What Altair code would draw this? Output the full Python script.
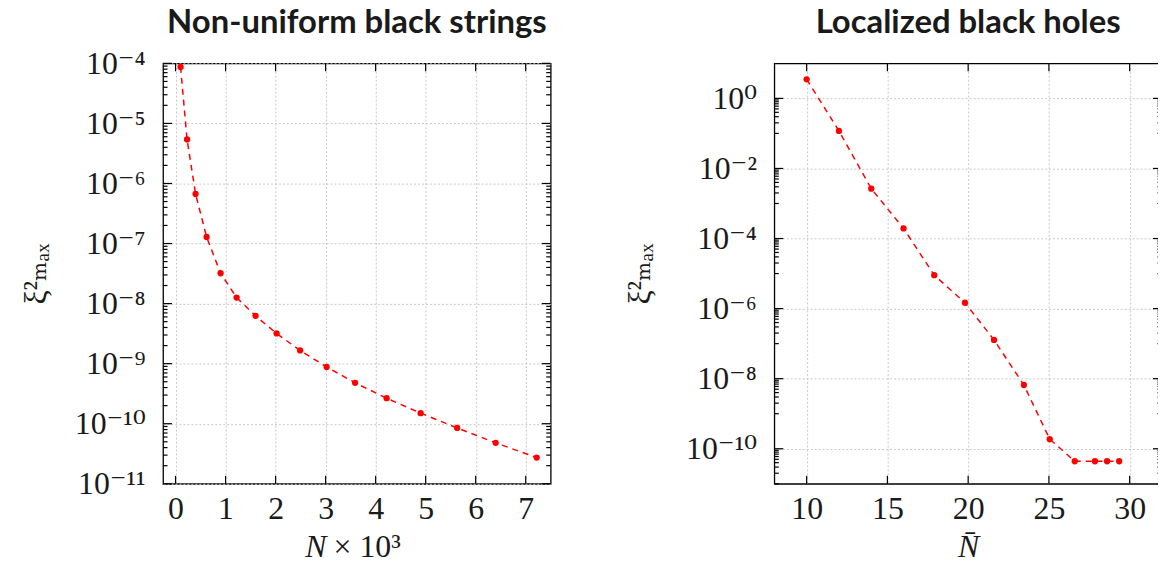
import altair as alt
import pandas as pd

# ---------------- data ----------------
# Left panel: non-uniform black strings
ns_N = [0.10, 0.23, 0.40, 0.62, 0.90, 1.22, 1.60, 2.02, 2.49, 3.02, 3.59, 4.22, 4.90, 5.63, 6.40, 7.22]
ns_xi2 = [8.7e-5, 5.4e-6, 6.7e-7, 1.29e-7, 3.2e-8, 1.26e-8, 6.25e-9, 3.18e-9, 1.66e-9,
          8.8e-10, 4.8e-10, 2.66e-10, 1.50e-10, 8.5e-11, 4.8e-11, 2.73e-11]

# Right panel: localized black holes
lb_N = [10.0, 12.0, 14.0, 16.0, 17.9, 19.8, 21.6, 23.45, 25.05, 26.6, 27.85, 28.6, 29.35]
lb_xi2 = [3.5, 0.118, 2.65e-3, 1.94e-4, 9.0e-6, 1.47e-6, 1.28e-7, 6.6e-9, 1.88e-10,
          4.4e-11, 4.4e-11, 4.4e-11, 4.4e-11]

ns_xticks = [0, 1, 2, 3, 4, 5, 6, 7]
lb_xticks = [10, 15, 20, 25, 30]
ns_yexps = [-11, -10, -9, -8, -7, -6, -5, -4]
lb_yexps = [-10, -8, -6, -4, -2, 0]

titles = ["Non-uniform black strings", "Localized black holes"]
ytitle = "ξ²ₘₐₓ"

# ---------------- style ----------------
W, H = 390, 423
RED = "#ff0000"
INK = "#000000"
TXT = "#1a1a1a"
SERIF = "Liberation Serif, DejaVu Serif, serif"
SUP = str.maketrans("-0123456789", "⁻⁰¹²³⁴⁵⁶⁷⁸⁹")
XTITLE_Y = 73.5


def pow_label_expr(exps):
    e = "round(log(datum.value)/LN10)"
    parts = [f"{e} == {k} ? '10{str(k).translate(SUP)}'" for k in exps]
    return " : ".join(parts) + " : ''"


def panel(x, y, xdom, xticks, yexp_range, yexps, ymajor, yminor, title, xtitle_parts,
          title_offset, ytitle_x):
    df = pd.DataFrame({"x": x, "y": y})
    xs = alt.Scale(domain=xdom, nice=False, zero=False)
    ys = alt.Scale(type="log", domain=[10.0 ** yexp_range[0], 10.0 ** yexp_range[1]], nice=False)
    base = alt.Chart(df)

    t1, t2 = xtitle_parts
    line = base.mark_line(color=RED, strokeDash=[6, 5], strokeWidth=1.5).encode(
        x=alt.X("x:Q", scale=xs, axis=alt.Axis(
            values=xticks, grid=True, ticks=False, tickSize=0, domain=False,
            labelPadding=10, title=t1[0], titleFontStyle=t1[1],
            titleAlign=t1[2], titleX=t1[3], titleY=XTITLE_Y, titleBaseline="alphabetic")),
        y=alt.Y("y:Q", scale=ys, axis=alt.Axis(
            values=[10.0 ** k for k in yexps], labelExpr=pow_label_expr(yexps),
            grid=True, ticks=False, tickSize=0, domain=False, labelPadding=18,
            title=ytitle, titleAngle=-90, titleX=ytitle_x, titleY=H / 2,
            titleAlign="center", titleBaseline="alphabetic")),
    )
    pts = base.mark_circle(size=40, color=RED, opacity=1).encode(
        x=alt.X("x:Q", scale=xs, axis=None),
        y=alt.Y("y:Q", scale=ys, axis=None),
    )

    # inward tick marks on all four sides of the frame, placed through the scales
    def yticks(values, side, length):
        x0 = 0 if side == "left" else W
        x1 = length if side == "left" else W - length
        return alt.Chart(pd.DataFrame({"v": values})).mark_rule(
            color=INK, strokeWidth=1.2, opacity=1).encode(
            y=alt.Y("v:Q", scale=ys, axis=None), x=alt.value(x0), x2=alt.value(x1))

    def xticks_marks(values, side, length):
        y0 = H if side == "bottom" else 0
        y1 = H - length if side == "bottom" else length
        return alt.Chart(pd.DataFrame({"v": values})).mark_rule(
            color=INK, strokeWidth=1.2, opacity=1).encode(
            x=alt.X("v:Q", scale=xs, axis=None), y=alt.value(y0), y2=alt.value(y1))

    layers = [line, pts,
              yticks(ymajor, "left", 9), yticks(ymajor, "right", 9),
              yticks(yminor, "left", 4.5), yticks(yminor, "right", 4.5),
              xticks_marks(xticks, "bottom", 8), xticks_marks(xticks, "top", 8)]
    if t2 is not None:
        layers.append(base.mark_point(opacity=0).encode(
            x=alt.X("x:Q", scale=xs, axis=alt.Axis(
                orient="bottom", labels=False, ticks=False, domain=False, grid=False,
                title=t2[0], titleFontStyle=t2[1], titleAlign=t2[2], titleX=t2[3],
                titleY=XTITLE_Y, titleBaseline="alphabetic")),
            y=alt.Y("y:Q", scale=ys, axis=None)))
    return alt.layer(*layers).resolve_scale(x="independent", y="independent").properties(
        width=W, height=H,
        title=alt.TitleParams(title, font="Lato", fontSize=33, fontWeight="bold", color=TXT,
                              anchor="middle", frame="group", offset=title_offset),
    )


ns_major = [10.0 ** k for k in ns_yexps]
ns_minor = [k * 10.0 ** e for e in range(-11, -4) for k in range(2, 10)]
lb_major = [10.0 ** k for k in lb_yexps]
lb_minor = [k * 10.0 ** (m - 1) for m in lb_yexps for k in range(1, 10)]

left = panel(ns_N, ns_xi2, [-0.25, 7.5], ns_xticks, (-11, -4), ns_yexps,
             ns_major, ns_minor, titles[0],
             (("N", "italic", "right", 164), ("× 10³", "normal", "left", 171)), 7.5, -118)
right = panel(lb_N, lb_xi2, [8, 32], lb_xticks, (-11, 1), lb_yexps,
              lb_major, lb_minor, titles[1],
              (("N̄", "italic", "center", W / 2), None), 22.5, -126)

chart = alt.hconcat(left, right, spacing=225, bounds="flush").properties(
    padding={"left": 11, "top": -4, "right": -6, "bottom": -6}
).configure_view(stroke=INK, strokeWidth=1.3).configure_axis(
    labelFont=SERIF, labelFontSize=32, labelColor=TXT,
    titleFont=SERIF, titleFontSize=32, titleColor=TXT, titleFontWeight="normal",
    gridColor="#c8c8c8", gridDash=[2, 2], gridWidth=1,
)

chart.save("out.html", embed_options={"renderer": "svg", "actions": False})
